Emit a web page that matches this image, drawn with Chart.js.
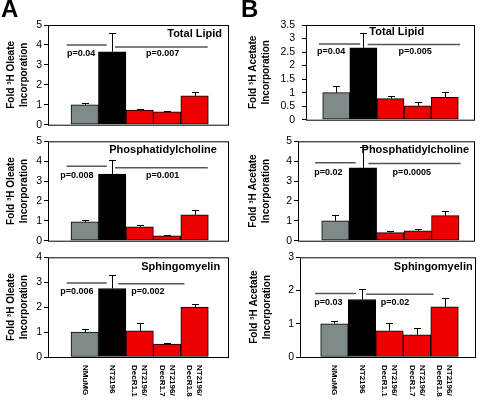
<!DOCTYPE html>
<html>
<head>
<meta charset="utf-8">
<script src="https://cdn.jsdelivr.net/npm/chart.js@4.4.1/dist/chart.umd.min.js"></script>
<style>
  body { margin: 0; background: #fff; }
  #fig { position: relative; width: 480px; height: 400px; background: #fff; font-family: 'Liberation Sans', Arial, sans-serif; }
  #fig canvas { position: absolute; }
  .panelLetter { position: absolute; font-weight: bold; font-size: 24px; line-height: 24px; color: #000; }
</style>
</head>
<body>
<div id="fig">
  <canvas id="a1" width="240" height="133" style="left:0;top:0"></canvas>
  <canvas id="a2" width="240" height="116" style="left:0;top:133px"></canvas>
  <canvas id="a3" width="240" height="151" style="left:0;top:249px"></canvas>
  <canvas id="b1" width="240" height="133" style="left:240px;top:0"></canvas>
  <canvas id="b2" width="240" height="116" style="left:240px;top:133px"></canvas>
  <canvas id="b3" width="240" height="151" style="left:240px;top:249px"></canvas>
  <div class="panelLetter" style="left:1px;top:-3px">A</div>
  <div class="panelLetter" style="left:241px;top:-3px">B</div>
</div>
<script>
// Cell lines (x categories)
const categories = [['NMuMG'], ['NT2196'], ['NT2196/', 'DecR1.1'], ['NT2196/', 'DecR1.7'], ['NT2196/', 'DecR1.8']];

// 3H oleate incorporation (fold), column A
const oleateLipid = [1.0, 3.66, 0.73, 0.65, 1.45];
const oleateLipidErr = [0.07, 0.92, 0.08, 0.05, 0.2];
const oleatePC = [0.95, 3.35, 0.7, 0.25, 1.3];
const oleatePCErr = [0.08, 0.72, 0.1, 0.05, 0.23];
const oleateSM = [1.0, 2.75, 1.05, 0.52, 2.0];
const oleateSMErr = [0.13, 0.55, 0.3, 0.06, 0.14];

// 3H acetate incorporation (fold), column B
const acetateLipid = [1.0, 2.66, 0.78, 0.51, 0.83];
const acetateLipidErr = [0.26, 0.56, 0.1, 0.14, 0.2];
const acetatePC = [1.0, 3.66, 0.41, 0.5, 1.26];
const acetatePCErr = [0.31, 1.07, 0.07, 0.1, 0.22];
const acetateSM = [1.0, 1.73, 0.79, 0.67, 1.51];
const acetateSMErr = [0.08, 0.33, 0.24, 0.2, 0.28];

// p values (NMuMG vs NT2196, NT2196 vs DecR1 lines)
const oleateLipidP = ['p=0.04', 'p=0.007'];
const oleatePCP = ['p=0.008', 'p=0.001'];
const oleateSMP = ['p=0.006', 'p=0.002'];
const acetateLipidP = ['p=0.04', 'p=0.005'];
const acetatePCP = ['p=0.02', 'p=0.0005'];
const acetateSMP = ['p=0.03', 'p=0.02'];

const FONT = "'Liberation Sans', Arial, sans-serif";
const barColors = ['#7f8a8a', '#000000', '#ee0000', '#ee0000', '#ee0000'];
const oleateTitle = ['Fold \u00b3H Oleate', 'Incorporation'];
const acetateTitle = ['Fold \u00b3H Acetate', 'Incorporation'];

// panel layout: pad = chart area padding inside the canvas, yw = y axis width
const panels = {
  a1: { values: oleateLipid, err: oleateLipidErr, p: oleateLipidP, title: 'Total Lipid', yTitle: oleateTitle,
        yMax: 5, step: 1, pad: { top: 25, bottom: 8, right: 11 }, yw: 48, titlePad: 5, tickPad: 2, xr: [-1.338, 5.254],
        lines: [[-0.66, 0.80, 4.0], [1.10, 4.48, 3.9]], pPos: [[-0.13, 3.58], [2.84, 3.58]], tPos: [5.0, 4.55, 'right'] },
  a2: { values: oleatePC, err: oleatePCErr, p: oleatePCP, title: 'Phosphatidylcholine', yTitle: oleateTitle,
        yMax: 5, step: 1, pad: { top: 8, bottom: 8, right: 11 }, yw: 48, titlePad: 5, tickPad: 2, xr: [-1.338, 5.254],
        lines: [[-0.66, 0.80, 3.75], [1.10, 4.48, 3.67]], pPos: [[-0.29, 3.3], [2.84, 3.3]], tPos: [4.81, 4.55, 'right'] },
  a3: { values: oleateSM, err: oleateSMErr, p: oleateSMP, title: 'Sphingomyelin', yTitle: oleateTitle,
        yMax: 4, step: 1, pad: { top: 8, bottom: 43, right: 11 }, yw: 48, titlePad: 5, tickPad: 2, xr: [-1.338, 5.254],
        lines: [[-0.66, 0.80, 2.97], [1.22, 3.63, 2.94]], pPos: [[-0.29, 2.61], [2.30, 2.61]], tPos: [4.93, 3.6, 'right'],
        xLabels: true },
  b1: { values: acetateLipid, err: acetateLipidErr, p: acetateLipidP, title: 'Total Lipid', yTitle: acetateTitle,
        yMax: 3.5, step: 0.5, pad: { top: 25, bottom: 8, right: 5 }, yw: 66, titlePad: 7, tickPad: 7, xr: [-1.116, 5.116],
        lines: [[-0.64, 0.88, 2.8], [1.16, 4.57, 2.78]], pPos: [[-0.19, 2.51], [2.91, 2.51]], tPos: [2.23, 3.24, 'center'] },
  b2: { values: acetatePC, err: acetatePCErr, p: acetatePCP, title: 'Phosphatidylcholine', yTitle: acetateTitle,
        yMax: 5, step: 1, pad: { top: 8, bottom: 8, right: 5 }, yw: 58, titlePad: 7, tickPad: 2, xr: [-1.363, 5.083],
        lines: [[-0.74, 0.74, 3.92], [1.20, 4.56, 3.88]], pPos: [[-0.26, 3.42], [2.78, 3.42]], tPos: [2.91, 4.55, 'center'] },
  b3: { values: acetateSM, err: acetateSMErr, p: acetateSMP, title: 'Sphingomyelin', yTitle: acetateTitle,
        yMax: 3, step: 1, pad: { top: 8, bottom: 43, right: 4 }, yw: 60, titlePad: 8, tickPad: 2, xr: [-1.252, 5.143],
        lines: [[-0.71, 0.78, 1.91], [1.15, 3.60, 1.89]], pPos: [[-0.22, 1.64], [2.20, 1.64]], tPos: [3.59, 2.70, 'center'],
        xLabels: true }
};

// error bars, p value lines, panel titles, frame and rotated category labels
const decorPlugin = {
  id: 'decor',
  afterDatasetsDraw(chart) {
    const cfg = panels[chart.canvas.id];
    const ctx = chart.ctx;
    const xs = chart.scales.x, ys = chart.scales.y;
    const area = chart.chartArea;
    ctx.save();

    ctx.strokeStyle = '#000';
    ctx.lineWidth = 1;
    cfg.values.forEach((v, i) => {
      const x = Math.round(xs.getPixelForValue(i)) + 0.5;
      const y0 = ys.getPixelForValue(v);
      const y1 = Math.round(ys.getPixelForValue(v + cfg.err[i])) + 0.5;
      ctx.beginPath();
      ctx.moveTo(x, y0);
      ctx.lineTo(x, y1);
      ctx.moveTo(x - 3.5, y1);
      ctx.lineTo(x + 3.5, y1);
      ctx.stroke();
    });

    ctx.strokeStyle = '#555';
    ctx.lineWidth = 1.5;
    cfg.lines.forEach(([xa, xb, y]) => {
      const py = ys.getPixelForValue(y);
      ctx.beginPath();
      ctx.moveTo(xs.getPixelForValue(xa), py);
      ctx.lineTo(xs.getPixelForValue(xb), py);
      ctx.stroke();
    });

    ctx.fillStyle = '#000';
    ctx.textBaseline = 'middle';
    ctx.textAlign = 'center';
    ctx.font = 'bold 9px ' + FONT;
    cfg.p.forEach((t, i) => {
      ctx.fillText(t, xs.getPixelForValue(cfg.pPos[i][0]), ys.getPixelForValue(cfg.pPos[i][1]));
    });

    ctx.font = 'bold 11px ' + FONT;
    ctx.textAlign = cfg.tPos[2];
    ctx.fillText(cfg.title, xs.getPixelForValue(cfg.tPos[0]), ys.getPixelForValue(cfg.tPos[1]));

    ctx.strokeStyle = '#000';
    ctx.lineWidth = 1;
    ctx.strokeRect(area.left + 0.5, area.top + 0.5, area.right - area.left - 1, area.bottom - area.top);
    ctx.restore();
  },
  afterDraw(chart) {
    const cfg = panels[chart.canvas.id];
    if (!cfg.xLabels) return;
    const ctx = chart.ctx;
    const xs = chart.scales.x;
    const top = chart.chartArea.bottom + 8;
    const lh = 10;
    ctx.save();
    ctx.fillStyle = '#000';
    ctx.font = 'bold 8px ' + FONT;
    ctx.textAlign = 'left';
    ctx.textBaseline = 'middle';
    categories.forEach((lines, i) => {
      ctx.save();
      ctx.translate(xs.getPixelForValue(i), top);
      ctx.rotate(Math.PI / 2);
      lines.forEach((t, j) => {
        ctx.fillText(t, 0, (j - (lines.length - 1) / 2) * lh);
      });
      ctx.restore();
    });
    ctx.restore();
  }
};

Chart.defaults.font.family = FONT;
Chart.defaults.color = '#000';

function makePanel(id) {
  const cfg = panels[id];
  const ctx = document.getElementById(id).getContext('2d');
  return new Chart(ctx, {
    type: 'bar',
    data: {
      datasets: [{
        data: cfg.values.map((v, i) => ({ x: i, y: v })),
        backgroundColor: barColors,
        borderColor: '#000',
        borderWidth: 1,
        borderSkipped: false,
        barPercentage: 1,
        categoryPercentage: 1
      }]
    },
    options: {
      responsive: false,
      animation: false,
      layout: { padding: { left: 0, top: cfg.pad.top, right: cfg.pad.right, bottom: cfg.pad.bottom } },
      plugins: { legend: { display: false }, tooltip: { enabled: false } },
      scales: {
        x: {
          type: 'linear',
          display: false,
          offset: false,
          min: cfg.xr[0],
          max: cfg.xr[1],
          ticks: { stepSize: 1, includeBounds: false }
        },
        y: {
          min: 0,
          max: cfg.yMax,
          ticks: {
            stepSize: cfg.step,
            autoSkip: false,
            padding: cfg.tickPad,
            font: { size: 10.5 },
            color: '#000',
            callback: (v) => String(v)
          },
          grid: { drawOnChartArea: false, tickLength: 4, color: '#000' },
          border: { display: false },
          title: {
            display: true,
            text: cfg.yTitle,
            color: '#000',
            font: { size: 10, weight: 'bold', lineHeight: 1.25 },
            padding: { top: cfg.titlePad, bottom: 0 }
          },
          afterFit(scale) { scale.width = cfg.yw; }
        }
      }
    },
    plugins: [decorPlugin]
  });
}

document.addEventListener('DOMContentLoaded', () => {
  Object.keys(panels).forEach(makePanel);
});
</script>
</body>
</html>
